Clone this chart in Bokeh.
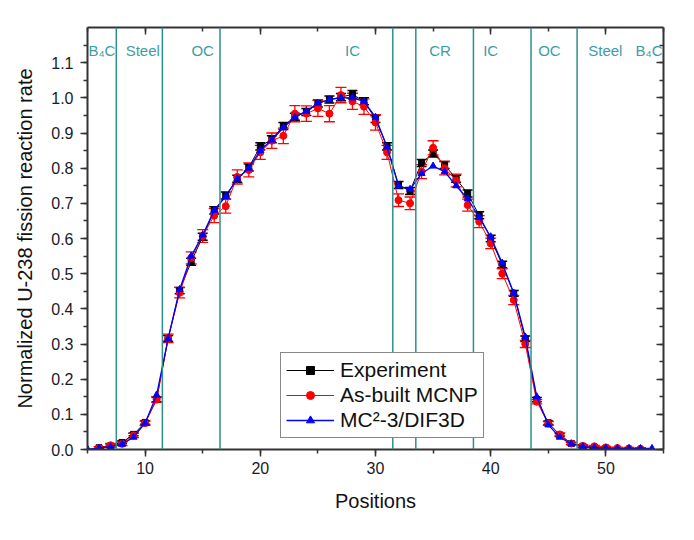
from bokeh.plotting import figure
from bokeh.models import (ColumnDataSource, Whisker, TeeHead, Span, Legend, LegendItem,
                          LinearAxis, Range1d, SingleIntervalTicker, CustomJSTickFormatter)
from bokeh.core.properties import value
from bokeh.embed import file_html
from bokeh.resources import INLINE

# ---------------- data ----------------
exp_x = list(range(6, 51))
exp_y = [0.005, 0.010, 0.020, 0.043, 0.077, 0.142, 0.316, 0.452, 0.534, 0.605,
         0.680, 0.722, 0.770, 0.802, 0.862, 0.882, 0.920, 0.946, 0.960, 0.984,
         0.995, 1.002, 1.010, 0.990, 0.940, 0.862, 0.752, 0.735, 0.815, 0.842,
         0.809, 0.770, 0.728, 0.666, 0.600, 0.526, 0.444, 0.315, 0.142, 0.076,
         0.041, 0.017, 0.009, 0.005, 0.004]
exp_err = [0.003, 0.003, 0.004, 0.004, 0.005, 0.006, 0.008, 0.009, 0.010, 0.010,
           0.010, 0.010, 0.010, 0.010, 0.010, 0.010, 0.010, 0.010, 0.010, 0.010,
           0.010, 0.010, 0.011, 0.010, 0.010, 0.010, 0.010, 0.010, 0.010, 0.010,
           0.010, 0.010, 0.010, 0.010, 0.009, 0.009, 0.008, 0.008, 0.006, 0.005,
           0.004, 0.003, 0.003, 0.003, 0.003]

mcnp_x = list(range(6, 54))
mcnp_y = [0.004, 0.012, 0.016, 0.040, 0.075, 0.142, 0.316, 0.446, 0.545, 0.607,
          0.665, 0.692, 0.775, 0.795, 0.845, 0.878, 0.892, 0.955, 0.955, 0.970,
          0.955, 1.008, 0.990, 0.975, 0.930, 0.845, 0.709, 0.700, 0.790, 0.858,
          0.800, 0.765, 0.695, 0.648, 0.586, 0.500, 0.425, 0.300, 0.136, 0.074,
          0.043, 0.017, 0.010, 0.009, 0.006, 0.004, 0.003, 0.002]
mcnp_err = [0.004, 0.005, 0.005, 0.006, 0.006, 0.008, 0.012, 0.015, 0.017, 0.018,
            0.020, 0.020, 0.020, 0.020, 0.020, 0.022, 0.022, 0.023, 0.022, 0.023,
            0.023, 0.022, 0.023, 0.022, 0.022, 0.020, 0.018, 0.018, 0.020, 0.020,
            0.019, 0.018, 0.017, 0.017, 0.015, 0.014, 0.013, 0.010, 0.006, 0.005,
            0.004, 0.003, 0.003, 0.003, 0.003, 0.003, 0.003, 0.003]

mc2_x = list(range(5, 55))
mc2_y = [0.001, 0.004, 0.008, 0.015, 0.035, 0.075, 0.155, 0.315, 0.455, 0.550,
         0.610, 0.680, 0.720, 0.770, 0.800, 0.850, 0.880, 0.915, 0.945, 0.962,
         0.985, 0.995, 1.000, 1.000, 0.990, 0.945, 0.860, 0.750, 0.740, 0.785,
         0.806, 0.790, 0.750, 0.713, 0.660, 0.605, 0.530, 0.445, 0.320, 0.150,
         0.070, 0.035, 0.016, 0.008, 0.005, 0.004, 0.003, 0.003, 0.003, 0.003]

boundaries = [7.5, 11.5, 16.5, 31.5, 33.5, 38.5, 43.5, 47.5]
region_names = ["B\u2084C", "Steel", "OC", "IC", "CR", "IC", "OC", "Steel", "B\u2084C"]
region_centers = [6.25, 9.8, 15.0, 28.0, 35.6, 40.0, 45.1, 49.95, 53.75]
region_label_y = [1.135] * 9

# ---------------- figure ----------------
FONT = "Liberation Sans"
p = figure(width=678, height=524, output_backend="svg", toolbar_location=None,
           x_range=Range1d(5, 55), y_range=Range1d(0, 1.2),
           min_border_left=87, min_border_right=15, min_border_top=27, min_border_bottom=75,
           background_fill_color="white", border_fill_color="white")
p.outline_line_color = None
p.xgrid.visible = False
p.ygrid.visible = False

AX = "#333333"
def style_axis(ax, show_labels=True, inward=False):
    ax.axis_line_color = AX
    ax.axis_line_width = 2
    ax.major_tick_line_color = AX
    ax.minor_tick_line_color = AX
    ax.major_tick_line_width = 1.5
    ax.minor_tick_line_width = 1.5
    if inward:
        ax.major_tick_in, ax.major_tick_out = 7, 0
        ax.minor_tick_in, ax.minor_tick_out = 4, 0
    else:
        ax.major_tick_in, ax.major_tick_out = 0, 7
        ax.minor_tick_in, ax.minor_tick_out = 0, 4
    ax.major_label_text_font = FONT
    ax.major_label_text_font_size = "16px"
    ax.major_label_text_color = "#1a1a2a"
    ax.axis_label_text_font = FONT
    ax.axis_label_text_font_size = "20px"
    ax.axis_label_text_font_style = "normal"
    ax.axis_label_text_color = "#111111"
    if not show_labels:
        ax.major_label_text_font_size = "0px"
        ax.major_label_standoff = 0
        ax.formatter = CustomJSTickFormatter(code="return ''")

p.xaxis.ticker = SingleIntervalTicker(interval=10, num_minor_ticks=2)
p.yaxis.ticker = SingleIntervalTicker(interval=0.1, num_minor_ticks=2)
style_axis(p.xaxis[0])
style_axis(p.yaxis[0])
p.xaxis.axis_label = "Positions"
p.yaxis.axis_label = "Normalized U-238 fission reaction rate"
p.yaxis.formatter = CustomJSTickFormatter(code="return tick.toFixed(1)")
p.xaxis.axis_label_standoff = 13
p.yaxis.axis_label_standoff = 12
p.yaxis.major_label_standoff = 7

top_ax = LinearAxis(ticker=SingleIntervalTicker(interval=10, num_minor_ticks=2))
style_axis(top_ax, show_labels=False, inward=True)
p.add_layout(top_ax, "above")
right_ax = LinearAxis(ticker=SingleIntervalTicker(interval=0.1, num_minor_ticks=2))
style_axis(right_ax, show_labels=False, inward=True)
p.add_layout(right_ax, "right")

# region boundaries
TEAL = "#2e8f8f"
for b in boundaries:
    p.add_layout(Span(location=b, dimension="height", line_color=TEAL, line_width=1.5))

lab_src = ColumnDataSource(dict(x=region_centers, y=region_label_y, t=region_names))
p.text(x="x", y="y", text="t", source=lab_src, text_font=value(FONT),
       text_font_size="15px", text_color="#3a9ea5", text_align="center",
       text_baseline="middle")

# series
exp_src = ColumnDataSource(dict(x=exp_x, y=exp_y,
                                lo=[a - e for a, e in zip(exp_y, exp_err)],
                                hi=[a + e for a, e in zip(exp_y, exp_err)]))
mcnp_src = ColumnDataSource(dict(x=mcnp_x, y=mcnp_y,
                                 lo=[a - e for a, e in zip(mcnp_y, mcnp_err)],
                                 hi=[a + e for a, e in zip(mcnp_y, mcnp_err)]))
mc2_src = ColumnDataSource(dict(x=mc2_x, y=mc2_y))

BLACK, RED, BLUE = "#000000", "#ff0000", "#0000ff"

l_exp = p.line("x", "y", source=exp_src, line_color=BLACK, line_width=1)
w_exp = Whisker(source=exp_src, base="x", upper="hi", lower="lo", line_color=BLACK,
                line_width=1.5,
                upper_head=TeeHead(size=10, line_color=BLACK, line_width=1.5),
                lower_head=TeeHead(size=10, line_color=BLACK, line_width=1.5))
p.add_layout(w_exp)
m_exp = p.scatter("x", "y", source=exp_src, marker="square", size=6, color=BLACK)

l_mc = p.line("x", "y", source=mcnp_src, line_color=RED, line_width=1)
w_mc = Whisker(source=mcnp_src, base="x", upper="hi", lower="lo", line_color=RED,
               line_width=1.3,
               upper_head=TeeHead(size=11, line_color=RED, line_width=1.3),
               lower_head=TeeHead(size=11, line_color=RED, line_width=1.3))
p.add_layout(w_mc)
m_mc = p.scatter("x", "y", source=mcnp_src, marker="circle", size=7, color=RED)

l_b = p.line("x", "y", source=mc2_src, line_color=BLUE, line_width=1.3)
m_b = p.scatter("x", "y", source=mc2_src, marker="triangle", size=7, color=BLUE)

legend = Legend(items=[
    LegendItem(label="Experiment", renderers=[l_exp, m_exp]),
    LegendItem(label="As-built MCNP", renderers=[l_mc, m_mc]),
    LegendItem(label="MC\u00b2-3/DIF3D", renderers=[l_b, m_b]),
], location=(193, 11))
legend.label_text_font = FONT
legend.label_text_font_size = "21px"
legend.label_text_color = "#111111"
legend.glyph_width = 48
legend.glyph_height = 20
legend.label_height = 20
legend.label_standoff = 6
legend.spacing = 1
legend.padding = 5
legend.margin = 0
legend.border_line_color = "#111111"
legend.border_line_width = 1.5
legend.background_fill_alpha = 1
p.add_layout(legend, "center")

open("out.html", "w").write(file_html(p, INLINE))
